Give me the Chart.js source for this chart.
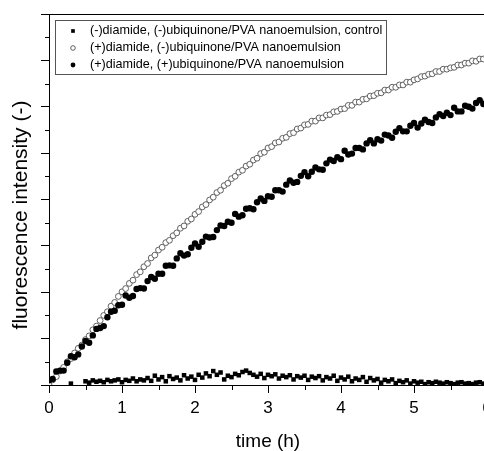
<!DOCTYPE html>
<html>
<head>
<meta charset="utf-8">
<script src="https://cdn.jsdelivr.net/npm/chart.js@4/dist/chart.umd.min.js"></script>
<style>
html,body{margin:0;padding:0;background:#fff;overflow:hidden;}
#wrap{position:relative;width:484px;height:451px;overflow:hidden;}
canvas{position:absolute;left:0;top:0;}
</style>
</head>
<body>
<div id="wrap"><canvas id="c" width="500" height="451"></canvas></div>
<script>
const seriesNames = [
  "(-)diamide, (-)ubiquinone/PVA nanoemulsion, control",
  "(+)diamide, (-)ubiquinone/PVA nanoemulsion",
  "(+)diamide, (+)ubiquinone/PVA nanoemulsion"
];
const times = [0,0.05,0.1,0.15,0.2,0.25,0.3,0.35,0.4,0.45,0.5,0.55,0.6,0.65,0.7,0.75,0.8,0.85,0.9,0.95,
1,1.05,1.1,1.15,1.2,1.25,1.3,1.35,1.4,1.45,1.5,1.55,1.6,1.65,1.7,1.75,1.8,1.85,1.9,1.95,
2,2.05,2.1,2.15,2.2,2.25,2.3,2.35,2.4,2.45,2.5,2.55,2.6,2.65,2.7,2.75,2.8,2.85,2.9,2.95,
3,3.05,3.1,3.15,3.2,3.25,3.3,3.35,3.4,3.45,3.5,3.55,3.6,3.65,3.7,3.75,3.8,3.85,3.9,3.95,
4,4.05,4.1,4.15,4.2,4.25,4.3,4.35,4.4,4.45,4.5,4.55,4.6,4.65,4.7,4.75,4.8,4.85,4.9,4.95,
5,5.05,5.1,5.15,5.2,5.25,5.3,5.35,5.4,5.45,5.5,5.55,5.6,5.65,5.7,5.75,5.8,5.85,5.9,5.95,
6,6.05,6.1];
const controlValues = [null,null,null,null,null,null,0.03,null,null,null,0.08,0.05,0.10,0.07,0.09,0.06,0.11,0.08,0.10,0.12,
0.06,0.11,0.09,0.14,0.08,0.12,0.10,0.15,0.09,0.20,0.12,0.17,0.08,0.19,0.13,0.16,0.10,0.21,0.14,0.18,
0.11,0.22,0.16,0.25,0.19,0.30,0.22,0.27,0.12,0.20,0.17,0.24,0.21,0.28,0.31,0.26,0.22,0.18,0.24,0.15,
0.22,0.19,0.23,0.14,0.20,0.17,0.21,0.12,0.19,0.16,0.20,0.11,0.18,0.15,0.19,0.10,0.17,0.14,0.20,0.09,
0.16,0.12,0.18,0.08,0.14,0.11,0.17,0.07,0.15,0.10,0.13,0.05,0.11,0.08,0.12,0.04,0.09,0.06,0.10,0.03,
0.08,0.05,0.07,0.02,0.06,0.04,0.07,0.05,0.03,0.06,0.04,0.02,0.05,0.06,0.03,0.04,0.02,0.05,0.06,0.03,
0.04,0.05,0.03];
const openValues = [0.00,0.11,0.18,0.30,0.38,0.50,0.57,0.69,0.79,0.86,
0.98,1.06,1.19,1.27,1.39,1.50,1.58,1.70,1.78,1.91,
2.01,2.08,2.19,2.26,2.38,2.44,2.55,2.62,2.74,2.80,
2.91,2.97,3.07,3.12,3.22,3.28,3.38,3.43,3.53,3.58,
3.68,3.74,3.84,3.89,3.99,4.05,4.15,4.20,4.30,4.35,
4.45,4.50,4.59,4.63,4.72,4.76,4.85,4.89,4.99,5.02,
5.11,5.14,5.22,5.24,5.32,5.34,5.42,5.44,5.52,5.54,
5.61,5.62,5.69,5.69,5.76,5.76,5.82,5.83,5.89,5.90,
5.95,5.96,6.03,6.03,6.10,6.10,6.16,6.17,6.23,6.24,
6.29,6.30,6.36,6.36,6.42,6.42,6.47,6.47,6.53,6.53,
6.58,6.60,6.65,6.66,6.70,6.71,6.76,6.76,6.81,6.81,
6.84,6.85,6.90,6.90,6.94,6.94,6.99,6.98,7.03,7.03,
7.07,7.09,7.11];
const filledValues = [0.10,0.13,0.29,0.31,0.31,0.48,0.62,0.60,0.66,0.83,
0.95,0.91,1.07,1.21,1.23,1.27,1.46,1.58,1.60,1.72,
1.73,1.93,1.88,1.92,2.07,2.09,2.08,2.24,2.33,2.29,
2.40,2.40,2.57,2.58,2.57,2.73,2.84,2.79,2.82,2.96,
3.05,2.98,3.09,3.20,3.18,3.19,3.34,3.44,3.43,3.52,
3.50,3.69,3.63,3.66,3.80,3.81,3.79,3.94,4.02,3.97,
4.07,4.06,4.20,4.20,4.17,4.32,4.41,4.36,4.38,4.51,
4.59,4.50,4.60,4.69,4.65,4.64,4.78,4.86,4.83,4.91,
4.87,5.05,4.97,4.99,5.11,5.11,5.08,5.21,5.28,5.21,
5.30,5.27,5.40,5.38,5.33,5.46,5.54,5.47,5.47,5.59,
5.65,5.55,5.64,5.72,5.67,5.65,5.77,5.84,5.80,5.87,
5.82,5.98,5.90,5.90,6.02,6.00,5.96,6.08,6.14,6.06,
6.14,6.11,6.23];
const xTickValues = [0,1,2,3,4,5,6];
const xMinorTicks = [0.5,1.5,2.5,3.5,4.5,5.5];
const yTickValues = [0,1,2,3,4,5,6,7,8];
const yMinorTicks = [0.5,1.5,2.5,3.5,4.5,5.5,6.5,7.5];
const xTitle = "time (h)";
const yTitle = "fluorescence intensity (-)";

const FONT = "'Liberation Sans', Arial, Helvetica, sans-serif";
function pts(vals){ return times.map((t,i)=>({x:t,y:vals[i]})); }

const minorTicksPlugin = {
  id:'minorTicks',
  afterDraw(chart){
    const ctx = chart.ctx, xs = chart.scales.x, ys = chart.scales.y, a = chart.chartArea;
    ctx.save();
    ctx.strokeStyle = '#000'; ctx.lineWidth = 1;
    ctx.beginPath();
    xMinorTicks.forEach(v=>{ const px = Math.round(xs.getPixelForValue(v))+0.5; ctx.moveTo(px, a.bottom); ctx.lineTo(px, a.bottom+5); });
    yMinorTicks.forEach(v=>{ const py = Math.round(ys.getPixelForValue(v))+0.5; ctx.moveTo(a.left-4, py); ctx.lineTo(a.left, py); });
    ctx.moveTo(a.left, Math.round(a.top)+0.5); ctx.lineTo(chart.width, Math.round(a.top)+0.5);
    ctx.stroke();
    ctx.fillStyle = '#000';
    ctx.font = "21px " + FONT;
    ctx.translate(21.5, 215);
    ctx.rotate(-Math.PI/2);
    ctx.textAlign = 'center'; ctx.textBaseline = 'middle';
    ctx.fillText(yTitle, 0, 0);
    ctx.restore();
  }
};

const legendPlugin = {
  id:'boxLegend',
  afterDraw(chart){
    const ctx = chart.ctx;
    ctx.save();
    ctx.strokeStyle = '#555'; ctx.lineWidth = 1;
    ctx.fillStyle = '#fff';
    ctx.fillRect(55.5, 20.5, 331, 54);
    ctx.strokeRect(55.5, 20.5, 331, 54);
    const rows = [31, 48, 65];
    chart.data.datasets.forEach((ds, i)=>{
      const st = {pointStyle: ds.pointStyle, radius: ds.legendRadius, borderWidth: ds.borderWidth, rotation:0};
      ctx.fillStyle = ds.backgroundColor; ctx.strokeStyle = ds.borderColor; ctx.lineWidth = ds.borderWidth;
      Chart.helpers.drawPoint(ctx, st, 73, rows[i]);
      ctx.fillStyle = '#000';
      ctx.font = "12.6px " + FONT;
      ctx.textAlign = 'left'; ctx.textBaseline = 'middle';
      ctx.fillText(ds.label, 90, rows[i]);
    });
    ctx.restore();
  }
};

new Chart(document.getElementById('c'), {
  type: 'scatter',
  data: {
    datasets: [
      {label: seriesNames[0], data: pts(controlValues), pointStyle:'rect', pointRadius:3.2, legendRadius:2.6,
       backgroundColor:'#000', borderColor:'#000', borderWidth:0, order:2},
      {label: seriesNames[1], data: pts(openValues), pointStyle:'circle', pointRadius:2.9, legendRadius:2.3,
       backgroundColor:'#fff', borderColor:'#505050', borderWidth:0.9, order:3},
      {label: seriesNames[2], data: pts(filledValues), pointStyle:'circle', pointRadius:3.2, legendRadius:2.4,
       backgroundColor:'#000', borderColor:'#000', borderWidth:0, order:1}
    ]
  },
  options: {
    responsive:false, animation:false, devicePixelRatio:1,
    layout:{padding:{left:0, top:14, right:13, bottom:0}},
    plugins:{legend:{display:false}, tooltip:{enabled:false}},
    elements:{point:{hoverRadius:3}},
    scales:{
      x:{type:'linear', min:0, max:6,
         afterBuildTicks(s){ s.ticks = xTickValues.map(v=>({value:v})); },
         afterFit(s){ s.height = 66; s.paddingLeft = 0; s.paddingRight = 0; },
         grid:{drawOnChartArea:false, drawTicks:true, tickLength:8, color:'#000', tickColor:'#000'},
         border:{display:true, color:'#000', width:1},
         ticks:{color:'#000', padding:5, maxRotation:0, font:{family:FONT, size:17}},
         title:{display:true, text:xTitle, color:'#000', padding:{top:0,bottom:0}, font:{family:FONT, size:19, lineHeight:1}}
      },
      y:{type:'linear', min:0, max:8,
         afterBuildTicks(s){ s.ticks = yTickValues.map(v=>({value:v})); },
         afterFit(s){ s.width = 49; },
         grid:{drawOnChartArea:false, drawTicks:true, tickLength:8, color:'#000', tickColor:'#000'},
         border:{display:true, color:'#000', width:1},
         ticks:{display:false},
         title:{display:false}
      }
    }
  },
  plugins:[minorTicksPlugin, legendPlugin]
});
</script>
</body>
</html>
